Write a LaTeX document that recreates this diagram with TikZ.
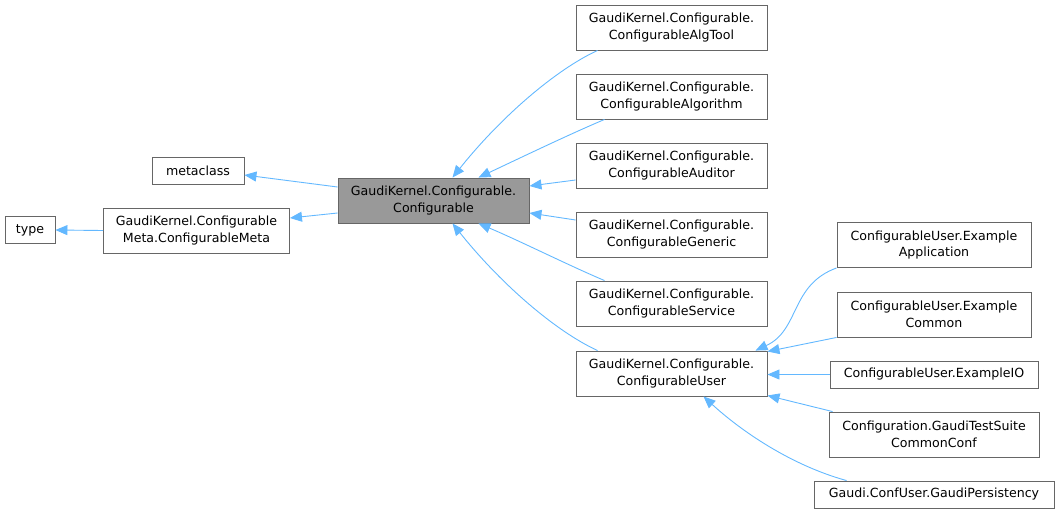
\documentclass[tikz,border=0pt]{standalone}
\usepackage{fontspec}
\setmainfont{DejaVu Sans}
\usetikzlibrary{arrows.meta}
\definecolor{edgeblue}{HTML}{63B8FF}
\definecolor{boxborder}{HTML}{666666}
\definecolor{hifill}{HTML}{999999}
\begin{document}
\begin{tikzpicture}[x=1pt,y=-1pt,
  box/.style={draw=boxborder,line width=0.9pt,fill=white,inner sep=0pt,align=center,
    font=\fontsize{12.6}{16.5}\selectfont},
  hibox/.style={box,fill=hifill},
  edge/.style={draw=edgeblue,line width=0.9pt,-{Triangle[length=12pt,width=10pt,fill=edgeblue]}}]
\useasboundingbox (0,0) rectangle (1059,514);
% left nodes
\node[box,minimum width=50pt,minimum height=27pt] (type) at (30,230) {type};
\node[box,minimum width=186pt,minimum height=45pt] (meta) at (196.5,230.5) {GaudiKernel.Configurable\\Meta.ConfigurableMeta};
\node[box,minimum width=92pt,minimum height=27pt] (metaclass) at (198,170.5) {metaclass};
\node[hibox,minimum width=191pt,minimum height=45pt] (conf) at (433.5,200.5) {GaudiKernel.Configurable.\\Configurable};
% middle column
\node[box,minimum width=191pt,minimum height=45pt] (algtool) at (671.5,27.5) {GaudiKernel.Configurable.\\ConfigurableAlgTool};
\node[box,minimum width=191pt,minimum height=45pt] (algorithm) at (671.5,96.5) {GaudiKernel.Configurable.\\ConfigurableAlgorithm};
\node[box,minimum width=191pt,minimum height=45pt] (auditor) at (671.5,165.5) {GaudiKernel.Configurable.\\ConfigurableAuditor};
\node[box,minimum width=191pt,minimum height=45pt] (generic) at (671.5,234.5) {GaudiKernel.Configurable.\\ConfigurableGeneric};
\node[box,minimum width=191pt,minimum height=45pt] (service) at (671.5,303.5) {GaudiKernel.Configurable.\\ConfigurableService};
\node[box,minimum width=191pt,minimum height=45pt] (user) at (671.5,373.5) {GaudiKernel.Configurable.\\ConfigurableUser};
% right column
\node[box,minimum width=194pt,minimum height=45pt] (exapp) at (934,245) {ConfigurableUser.Example\\Application};
\node[box,minimum width=194pt,minimum height=45pt] (excommon) at (934,314.5) {ConfigurableUser.Example\\Common};
\node[box,minimum width=208pt,minimum height=27pt] (exio) at (934,374.5) {ConfigurableUser.ExampleIO};
\node[box,minimum width=210pt,minimum height=45pt] (testsuite) at (934,434.5) {Configuration.GaudiTestSuite\\CommonConf};
\node[box,minimum width=240pt,minimum height=27pt] (persist) at (934,494.5) {Gaudi.ConfUser.GaudiPersistency};
% edges
\draw[edge] (meta.west) -- (type.east);
\draw[edge] ([yshift=13.5pt]conf.west) -- ([yshift=-4.5pt]metaclass.east);
\draw[edge] ([yshift=-12.5pt]conf.west) -- ([yshift=12.5pt]meta.east);
\draw[edge] ([xshift=22pt]algtool.south west) .. controls (555,70) and (500,118) .. ([xshift=19pt]conf.north);
\draw[edge] ([xshift=29pt]algorithm.south west) .. controls (570,134) and (520,158) .. ([xshift=45pt]conf.north);
\draw[edge] ([yshift=-14.5pt]auditor.west) -- ([yshift=14.5pt]conf.east);
\draw[edge] ([yshift=14.5pt]generic.west) -- ([yshift=-12.5pt]conf.east);
\draw[edge] ([xshift=29pt]service.north west) .. controls (570,266) and (520,241) .. ([xshift=45pt]conf.south);
\draw[edge] ([xshift=22pt]user.north west) .. controls (555,331) and (500,283) .. ([xshift=19pt]conf.south);
\draw[edge] (exapp.south west) .. controls (790,285) and (800,330) .. ([xshift=84pt]user.north);
\draw[edge] (excommon.south west) -- ([yshift=22pt]user.east);
\draw[edge] (exio.west) -- ([yshift=-1pt]user.east);
\draw[edge] ([xshift=4pt]testsuite.north west) -- ([yshift=-22pt]user.east);
\draw[edge] ([xshift=33pt]persist.north west) .. controls (790,465) and (740,430) .. ([xshift=32pt]user.south);
\end{tikzpicture}
\end{document}
